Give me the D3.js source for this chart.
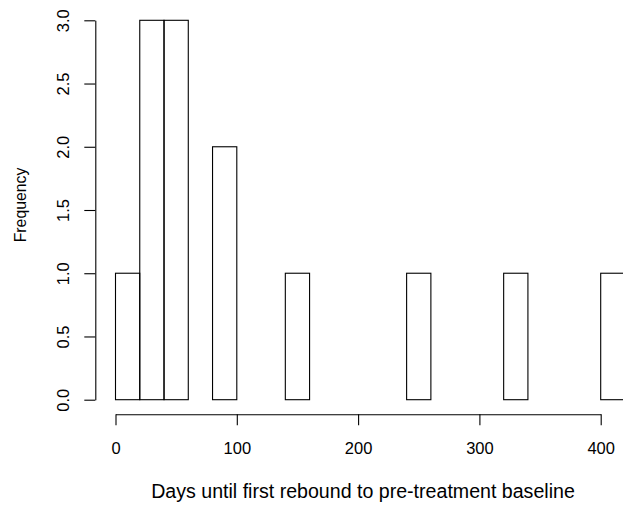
<!DOCTYPE html>
<html><head><meta charset="utf-8">
<script src="https://cdn.jsdelivr.net/npm/d3@7/dist/d3.min.js"></script>
<style>body{margin:0;background:#fff}svg{display:block}</style>
</head><body>
<script>
const binStarts = [0,20,40,60,80,100,120,140,160,180,200,220,240,260,280,300,320,340,360,380,400];
const binWidth = 20;
const counts = [1,3,3,0,2,0,0,1,0,0,0,0,1,0,0,0,1,0,0,0,1];
const xTicks = [0,100,200,300,400];
const yTicks = [0,0.5,1,1.5,2,2.5,3];
const xTitle = "Days until first rebound to pre-treatment baseline";
const yTitle = "Frequency";

const W = 623, H = 505;
const svg = d3.select("body").append("svg").attr("width", W).attr("height", H);
const font = "Liberation Sans, Arial, Helvetica, sans-serif";

const x = d3.scaleLinear().domain([0, 400]).range([115.5, 600.7]);
const y = d3.scaleLinear().domain([0, 3]).range([399.7, 20.3]);

// bars
svg.append("g").selectAll("rect").data(binStarts).join("rect")
  .attr("x", (d) => x(d))
  .attr("width", (d) => x(d + binWidth) - x(d))
  .attr("y", (d, i) => y(counts[i]))
  .attr("height", (d, i) => y(0) - y(counts[i]))
  .attr("fill", "none").attr("stroke", "#000").attr("stroke-width", 1.1);

// x axis
const xAxisY = 414.3;
const gx = svg.append("g").attr("transform", `translate(0,${xAxisY})`)
  .call(d3.axisBottom(x).tickValues(xTicks).tickSize(11).tickSizeOuter(0).tickFormat(d3.format("d")));
gx.select(".domain").attr("stroke-width", 1.1);
gx.selectAll(".tick line").attr("stroke-width", 1.1);
gx.selectAll("text").attr("y", 40).attr("dy", null)
  .attr("font-family", font).attr("font-size", 16.5).attr("fill", "#000");

// y axis
const yAxisX = 95.3;
const gy = svg.append("g").attr("transform", `translate(${yAxisX},0)`)
  .call(d3.axisLeft(y).tickValues(yTicks).tickSize(11).tickSizeOuter(0).tickFormat(d3.format(".1f")));
gy.select(".domain").attr("stroke-width", 1.1);
gy.selectAll(".tick line").attr("stroke-width", 1.1);
gy.selectAll("text").attr("x", null).attr("dy", null)
  .attr("transform", "translate(-32,0) rotate(-90)")
  .attr("text-anchor", "middle").attr("dominant-baseline", "central")
  .attr("font-family", font).attr("font-size", 16.5).attr("fill", "#000");

// titles
svg.append("text").attr("x", 363).attr("y", 498)
  .attr("text-anchor", "middle").attr("font-family", font).attr("font-size", 19.6).text(xTitle);
svg.append("text").attr("transform", "translate(25.5,205) rotate(-90)")
  .attr("text-anchor", "middle").attr("font-family", font).attr("font-size", 15.8).attr("fill", "#000").text(yTitle);
</script>
</body></html>
